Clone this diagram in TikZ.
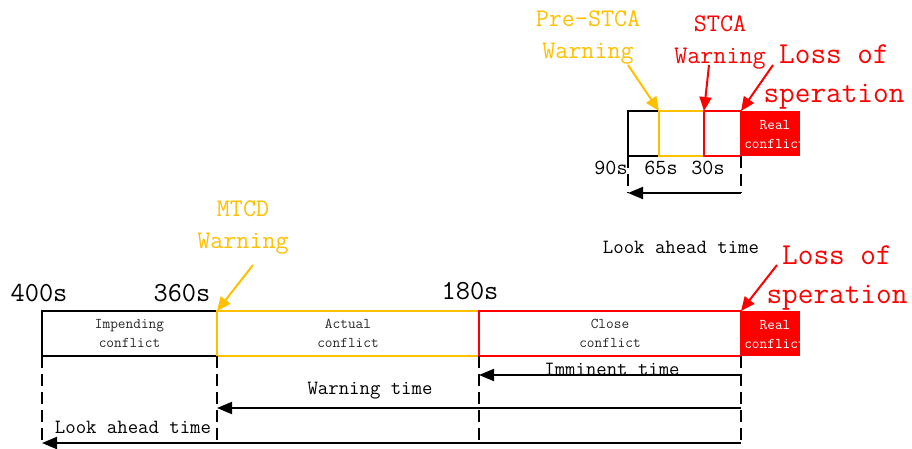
\documentclass[tikz,border=0pt]{standalone}
\usetikzlibrary{arrows.meta}
\definecolor{warnorange}{HTML}{FFC000}
\definecolor{lossred}{HTML}{FF0000}
\begin{document}
\begin{tikzpicture}[x=1pt,y=-1pt,
  seg/.style={draw, line width=2pt, minimum height=45pt, inner sep=0pt, outer sep=0pt,
    anchor=north west, align=center, font=\ttfamily\fontsize{14.9}{19}\selectfont, text=black!85},
  realbox/.style={fill=lossred, draw=none, minimum height=45pt, minimum width=59pt,
    inner sep=0pt, outer sep=0pt, anchor=north west},
  realtext/.style={text=white, align=center, font=\ttfamily\fontsize{14.9}{19}\selectfont, inner sep=0pt},
  guide/.style={line width=2pt, dash pattern=on 12pt off 6pt},
  timearrow/.style={line width=2pt, -{Triangle[length=15pt,width=12pt]}},
  warnarrow/.style={line width=2pt, -{Triangle[length=14pt,width=12pt]}},
  tick/.style={font=\ttfamily\fontsize{27.6}{30}\selectfont, inner sep=0pt},
  smalltick/.style={font=\ttfamily\fontsize{21.5}{24}\selectfont, inner sep=0pt},
  timelabel/.style={font=\ttfamily\fontsize{20.2}{23}\selectfont, inner sep=0pt},
  warnlabel/.style={font=\ttfamily\fontsize{25.3}{32}\selectfont, align=center, inner sep=0pt},
  losslabel/.style={font=\ttfamily\fontsize{30.4}{39}\selectfont, align=center, inner sep=0pt, text=lossred}
]
\useasboundingbox (0,0) rectangle (912,448);

% ---------- bottom timeline ----------
\node[seg, minimum width=175pt] (imp) at (42,311) {Impending\\conflict};
\node[seg, draw=warnorange, minimum width=262pt] (act) at (217,311) {Actual\\conflict};
\node[seg, draw=lossred, minimum width=262pt] (close) at (479,311) {Close\\conflict};
\node[realbox] (real) at (741,311) {};
\begin{scope}
  \clip (real.north west) rectangle (real.south east);
  \node[realtext] (realt) at (775,334) {Real\\conflict};
\end{scope}

\node[tick] (t400) at (39,293) {400s};
\node[tick] (t360) at (182,293) {360s};
\node[tick] (t180) at (470,291) {180s};

\coordinate (g1) at (42,443);
\coordinate (g2) at (217,440);
\coordinate (g3) at (479,443);
\coordinate (g4) at (741,443);
\draw[guide] (imp.south west) -- (g1);
\draw[guide] (imp.south east) -- (g2);
\draw[guide] (close.south west) -- (g3);
\draw[guide] (close.south east) -- (g4);

\coordinate (im1) at (741,375);
\coordinate (im2) at (479,375);
\coordinate (wa1) at (741,408);
\coordinate (wa2) at (217,408);
\draw[timearrow] (im1) -- (im2);
\draw[timearrow] (wa1) -- (wa2);
\draw[timearrow] (g4) -- (g1);
\node[timelabel] (imlab) at (612,369) {Imminent time};
\node[timelabel] (walab) at (370,391) {Warning time};
\node[timelabel] (lalab) at (133,427) {Look ahead time};

\node[warnlabel, text=warnorange] (mtcd) at (243,228) {MTCD\\Warning};
\coordinate (mtcdS) at (253,265);
\draw[warnarrow, warnorange] (mtcdS) -- (act.north west);

\node[losslabel] (loss2) at (837,278) {Loss of\\speration};
\coordinate (loss2S) at (777,265);
\draw[warnarrow, lossred] (loss2S) -- (close.north east);

% ---------- top timeline ----------
\node[seg, minimum width=31pt] (s1) at (628,111) {};
\node[seg, draw=warnorange, minimum width=45pt] (s2) at (659,111) {};
\node[seg, draw=lossred, minimum width=37pt] (s3) at (704,111) {};
\node[realbox] (treal) at (741,111) {};
\begin{scope}
  \clip (treal.north west) rectangle (treal.south east);
  \node[realtext] (trealt) at (775,134) {Real\\conflict};
\end{scope}

\node[smalltick] (t90) at (611,168) {90s};
\node[smalltick] (t65) at (661,168) {65s};
\node[smalltick] (t30) at (708,168) {30s};

\coordinate (h1) at (628,193);
\coordinate (h2) at (741,193);
\draw[guide] (s1.south west) -- (h1);
\draw[guide] (s3.south east) -- (h2);
\draw[timearrow] (h2) -- (h1);
\node[timelabel] (lalab2) at (681,247) {Look ahead time};

\node[warnlabel, text=warnorange] (pre) at (588,37) {Pre-STCA\\Warning};
\coordinate (preS) at (628,65);
\draw[warnarrow, warnorange] (preS) -- (s2.north west);

\node[warnlabel, text=lossred] (stca) at (720,42) {STCA\\Warning};
\coordinate (stcaS) at (709,65);
\draw[warnarrow, lossred] (stcaS) -- (s3.north west);

\node[losslabel] (loss1) at (834,77) {Loss of\\speration};
\coordinate (loss1S) at (773,65);
\draw[warnarrow, lossred] (loss1S) -- (s3.north east);
\end{tikzpicture}
\end{document}
